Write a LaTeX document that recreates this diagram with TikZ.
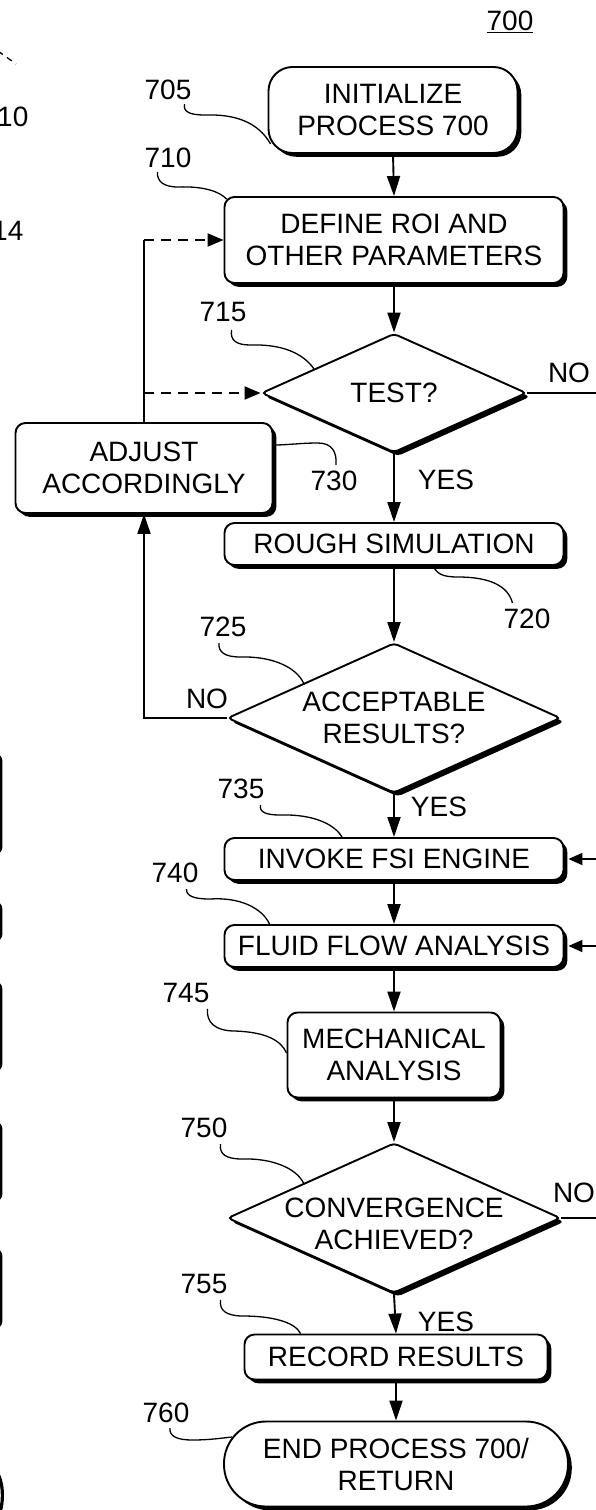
\documentclass[tikz,border=0pt]{standalone}
\usepackage{fontspec}
\setmainfont{Liberation Sans}
\usetikzlibrary{shapes.geometric,arrows.meta,shadows,calc}
\tikzset{
  every node/.style={font=\fontsize{28}{32}\selectfont, inner sep=0pt},
  shad/.style={drop shadow={shadow xshift=3.8pt,shadow yshift=-3.8pt,fill=black,opacity=1}},
  procbox/.style={draw, line width=1.9pt, fill=white, rounded corners=10pt, align=center, shad},
  termbox/.style={procbox, rounded corners=24pt},
  decision/.style={draw, shape=diamond, line width=1.9pt, fill=white, align=center, rounded corners=4pt, shad, aspect=2.2},
  flow/.style={line width=1.9pt, -{Triangle[length=20pt,width=13pt]}},
  sidearrow/.style={line width=1.9pt, -{Triangle[length=14pt,width=12pt]}},
  plain/.style={line width=1.9pt},
  dasharrow/.style={line width=1.9pt, dash pattern=on 10pt off 7pt, -{Triangle[length=16pt,width=13pt]}},
  leader/.style={line width=1.3pt},
  frag/.style={line width=3.2pt, rounded corners=6pt},
}
\begin{document}
\begin{tikzpicture}[x=1pt,y=-1pt]
\fill[white] (0,0) rectangle (596,1510);
\useasboundingbox (0,0) rectangle (596,1510);
\coordinate (edgeR) at (596,0);

% fragments of the neighbouring figure at the left edge
\node[anchor=west] (f10) at (-3,117) {10};
\node[anchor=west] (f14) at (-8,231) {14};
\draw[line width=1.3pt, dash pattern=on 6pt off 5pt] (-2,51) -- (16,64);
\draw[frag] (-20,755) -- (0.8,755) -- (0.8,853) -- (-20,853);
\draw[frag] (-20,903) -- (0.8,903) -- (0.8,940) -- (-20,940);
\draw[frag] (-20,983) -- (0.8,983) -- (0.8,1070) -- (-20,1070);
\draw[frag] (-20,1123) -- (0.8,1123) -- (0.8,1200) -- (-20,1200);
\draw[frag] (-20,1250) -- (0.8,1250) -- (0.8,1327) -- (-20,1327);
\draw[line width=3.2pt] (-8,1466) .. controls (4,1476) and (4,1500) .. (0,1512);

% process nodes
\node[termbox, minimum width=249, minimum height=86] (start) at (393,110) {INITIALIZE\\PROCESS 700};
\node[procbox, minimum width=339, minimum height=86] (define) at (394,240) {DEFINE ROI AND\\OTHER PARAMETERS};
\node[decision, minimum width=265, minimum height=119] (test) at (394,393) {TEST?};
\node[procbox, minimum width=257, minimum height=90] (adjust) at (144,468) {ADJUST\\ACCORDINGLY};
\node[procbox, minimum width=339, minimum height=42] (rough) at (394,544) {ROUGH SIMULATION};
\node[decision, minimum width=333, minimum height=150] (accept) at (394,718) {ACCEPTABLE\\RESULTS?};
\node[procbox, minimum width=339, minimum height=42] (invoke) at (394,859) {INVOKE FSI ENGINE};
\node[procbox, minimum width=339, minimum height=42] (fluid) at (394,946) {FLUID FLOW ANALYSIS};
\node[procbox, minimum width=213, minimum height=85] (mech) at (394,1055) {MECHANICAL\\ANALYSIS};
\node[decision, minimum width=333, minimum height=150,
      label={[align=center,yshift=-6pt]center:CONVERGENCE\\ACHIEVED?}] (conv) at (394,1218) {};
\node[procbox, minimum width=303, minimum height=45] (record) at (396,1357) {RECORD RESULTS};
\node[procbox, rounded corners=42pt, minimum width=344, minimum height=85] (end) at (396,1464) {END PROCESS 700/\\RETURN};

% reference labels
\node (l700) at (510,22) {\underline{700}};
\node (l705) at (168,90) {705};
\node (l710) at (168,158) {710};
\node (l715) at (223,312) {715};
\node (l730) at (334,481) {730};
\node (l720) at (527,619) {720};
\node (l725) at (223,627) {725};
\node (l735) at (241,789) {735};
\node (l740) at (175,873) {740};
\node (l745) at (186,993) {745};
\node (l750) at (204,1128) {750};
\node (l755) at (204,1284) {755};
\node (l760) at (166,1413) {760};
\node (yes1) at (446,480) {YES};
\node (yes2) at (439,807) {YES};
\node (yes3) at (446,1322) {YES};
\node (no1) at (569,373) {NO};
\node (no2) at (207,699) {NO};
\node (no3) at (574,1193) {NO};

% leader lines
\draw[leader] ($(l705.south east)+(-7,4)$) .. controls (183,112) and (190,115) .. (205,115) .. controls (235,114) and (258,122) .. ($(start.south west)+(3,-10)$);
\draw[leader] ($(l710.south west)+(13,4)$) .. controls (157,181) and (163,187) .. (178,187) .. controls (205,186) and (220,192) .. ($(define.north west)+(3,3)$);
\draw[leader] ($(l715.south east)+(-15,8)$) .. controls (230,340) and (236,345) .. (250,345) .. controls (280,344) and (302,352) .. ($(test.west)!0.4!(test.north)$);
\draw[leader] ($(l730.north)+(2,-6)$) .. controls (337,452) and (332,443) .. (318,443) .. controls (300,443) and (288,445) .. ($(adjust.north east)!0.25!(adjust.south east)$);
\draw[leader] ($(rough.south)+(40,2)$) .. controls (438,574) and (443,577) .. (458,577) .. controls (490,577) and (508,586) .. ($(l720.north west)+(9,-6)$);
\draw[leader] ($(l725.south)+(-4,6)$) .. controls (218,652) and (225,657) .. (240,657) .. controls (272,656) and (296,667) .. ($(accept.west)!0.46!(accept.north)$);
\draw[leader] ($(l735.south east)+(-4,6)$) .. controls (259,812) and (266,815) .. (280,815) .. controls (315,814) and (335,825) .. ($(invoke.north)+(-52,0)$);
\draw[leader] ($(l740.south east)+(-12,6)$) .. controls (186,896) and (194,899) .. (210,899) .. controls (240,897) and (262,908) .. ($(fluid.north west)+(46,0)$);
\draw[leader] ($(l745.south east)+(-2,6)$) .. controls (206,1022) and (215,1031) .. (235,1031) .. controls (265,1032) and (281,1040) .. ($(mech.west)+(0,-2)$);
\draw[leader] ($(l750.south east)+(-7,6)$) .. controls (219,1154) and (226,1159) .. (242,1159) .. controls (272,1158) and (296,1168) .. ($(conv.west)!0.46!(conv.north)$);
\draw[leader] ($(l755.south east)+(-7,6)$) .. controls (219,1310) and (226,1316) .. (243,1316) .. controls (272,1316) and (295,1322) .. ($(record.north west)+(57,0)$);
\draw[leader] ($(l760.south)+(4,5)$) .. controls (169,1436) and (177,1440) .. (192,1440) .. controls (210,1440) and (222,1438) .. ($(end.west)+(9,-27)$);

% connectors
\draw[flow] (start.south) -- (define.north);
\draw[flow] (define.south) -- (test.north);
\draw[flow] (test.south) -- (rough.north);
\draw[plain] (test.east) -- (test.east -| edgeR);
\draw[flow] (rough.south) -- (accept.north);
\draw[flow] (accept.west) -| (adjust.south);
\draw[plain] (adjust.north) -- (adjust.north |- define.west);
\draw[dasharrow] (adjust.north |- define.west) -- (define.west);
\draw[dasharrow] (adjust.north |- test.west) -- (test.west);
\draw[flow] (accept.south) -- (invoke.north);
\draw[flow] (invoke.south) -- (fluid.north);
\draw[flow] (fluid.south) -- (mech.north);
\draw[flow] (mech.south) -- (conv.north);
\draw[plain] (conv.east) -- (conv.east -| edgeR);
\draw[flow] (conv.south) -- (record.north);
\draw[flow] (record.south) -- (end.north);
\draw[sidearrow] (invoke.east -| edgeR) -- ($(invoke.east)+(4,0)$);
\draw[sidearrow] (fluid.east -| edgeR) -- ($(fluid.east)+(4,0)$);
\end{tikzpicture}
\end{document}
